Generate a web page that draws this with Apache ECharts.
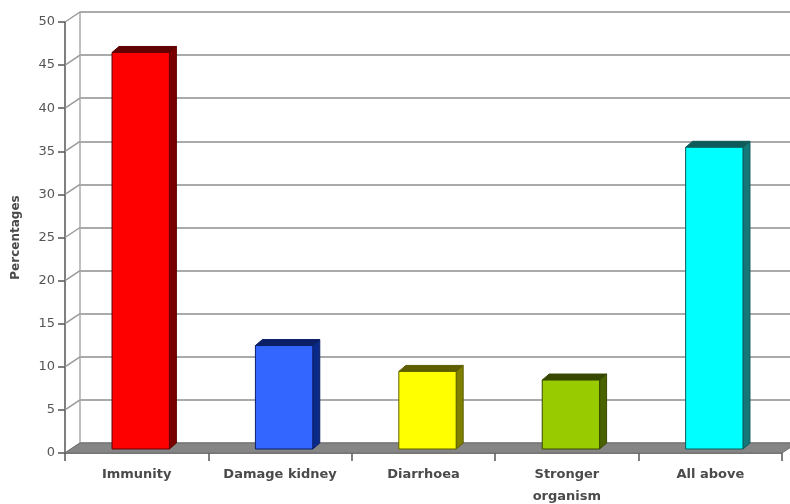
<!DOCTYPE html>
<html>
<head>
<meta charset="utf-8">
<script src="https://cdn.jsdelivr.net/npm/echarts@6/dist/echarts.min.js"></script>
<style>
  html, body { margin: 0; padding: 0; background: #fff; }
  #chart { width: 790px; height: 504px; }
</style>
</head>
<body>
<div id="chart"></div>
<script>
const categories = ['Immunity', 'Damage kidney', 'Diarrhoea', 'Stronger\norganism', 'All above'];
const percentages = [46, 12, 9, 8, 35];
const yTicks = [0, 5, 10, 15, 20, 25, 30, 35, 40, 45, 50];

const faceColors = ['#ff0000', '#3366ff', '#ffff00', '#99cc00', '#00ffff'];
const sideColors = ['#7a0000', '#0a2a8a', '#7f7f00', '#4a6300', '#157878'];
const edgeColors = ['#600000', '#0a1f66', '#5e5e00', '#364800', '#0f5a5a'];

// offset of the back wall relative to the front plane
const WALL_DX = 15, WALL_DY = -10;
// bars stand a little inside the floor, with their own depth
const BAR_DX = 4, BAR_DY = -4, BAR_DEPTH_X = 7, BAR_DEPTH_Y = -6;

const chart = echarts.init(document.getElementById('chart'), null, { renderer: 'canvas' });

const font = '"DejaVu Sans", Verdana, sans-serif';

function renderBar(params, api) {
  const i = api.value(0);
  const v = api.value(1);
  const top = api.coord([i, v]);
  const base = api.coord([i, 0]);
  const w = api.size([1, 0])[0] * 0.4;
  const x = top[0] - w / 2 + BAR_DX;
  const y = top[1] + BAR_DY;
  const h = base[1] - top[1];
  const dx = BAR_DEPTH_X, dy = BAR_DEPTH_Y;
  const idx = params.dataIndex;
  return {
    type: 'group',
    children: [
      {
        type: 'polygon',
        shape: { points: [[x + w, y], [x + w + dx, y + dy], [x + w + dx, y + h + dy], [x + w, y + h]] },
        style: { fill: sideColors[idx], stroke: edgeColors[idx], lineWidth: 1 }
      },
      {
        type: 'polygon',
        shape: { points: [[x, y], [x + dx, y + dy], [x + w + dx, y + dy], [x + w, y]] },
        style: { fill: edgeColors[idx], stroke: edgeColors[idx], lineWidth: 1 }
      },
      {
        type: 'rect',
        shape: { x: x, y: y, width: w, height: h },
        style: { fill: faceColors[idx], stroke: edgeColors[idx], lineWidth: 1 }
      }
    ]
  };
}

function renderWallEdge(params, api) {
  const y = api.coord([0, api.value(1)])[1];
  const x = params.coordSys.x;
  return {
    type: 'line',
    shape: { x1: x, y1: y, x2: x + WALL_DX, y2: y + WALL_DY },
    style: { stroke: '#9a9a9a', lineWidth: 1.5 }
  };
}

function renderFloor(params, api) {
  const cs = params.coordSys;
  const y = api.coord([0, 0])[1];
  const x0 = cs.x, x1 = cs.x + cs.width;
  return {
    type: 'polygon',
    shape: { points: [[x0, y], [x0 + WALL_DX, y + WALL_DY], [x1 + WALL_DX, y + WALL_DY], [x1, y]] },
    style: { fill: '#858585', stroke: '#6f6f6f', lineWidth: 1 }
  };
}

chart.setOption({
  backgroundColor: '#ffffff',
  animation: false,
  grid: [
    { left: 65, right: 8, top: 22, bottom: 51, outerBoundsMode: 'none', containLabel: false },
    { left: 65 + WALL_DX, right: 8 - WALL_DX, top: 22 + WALL_DY, bottom: 51 - WALL_DY, outerBoundsMode: 'none', containLabel: false }
  ],
  xAxis: [
    {
      type: 'category',
      gridIndex: 0,
      data: categories,
      axisLine: { lineStyle: { color: '#555', width: 1.5 } },
      axisTick: { show: true, length: 8, lineStyle: { color: '#555', width: 1.5 } },
      axisLabel: {
        margin: 11,
        fontFamily: font,
        fontSize: 13,
        fontWeight: 'bold',
        color: '#4a4a4a',
        lineHeight: 22,
        interval: 0
      }
    },
    {
      type: 'category',
      gridIndex: 1,
      data: categories,
      show: false
    }
  ],
  yAxis: [
    {
      type: 'value',
      gridIndex: 0,
      min: 0,
      max: 50,
      interval: 5,
      name: 'Percentages',
      nameLocation: 'middle',
      nameGap: 43,
      nameTextStyle: { fontFamily: font, fontSize: 12, fontWeight: 'bold', color: '#4a4a4a' },
      axisLine: { show: true, lineStyle: { color: '#555', width: 1.5 } },
      axisTick: { show: true, length: 7, lineStyle: { color: '#555', width: 1.5 } },
      axisLabel: { margin: 10, fontFamily: font, fontSize: 13, color: '#555' },
      splitLine: { show: false }
    },
    {
      type: 'value',
      gridIndex: 1,
      min: 0,
      max: 50,
      interval: 5,
      axisLine: { show: true, lineStyle: { color: '#aaa', width: 1.5 } },
      axisTick: { show: false },
      axisLabel: { show: false },
      splitLine: { show: true, lineStyle: { color: '#8e8e8e', width: 1.5 } }
    }
  ],
  series: [
    {
      name: 'wall',
      type: 'custom',
      xAxisIndex: 0,
      yAxisIndex: 0,
      renderItem: renderWallEdge,
      data: yTicks.map(v => [0, v]),
      z: 1,
      silent: true
    },
    {
      name: 'floor',
      type: 'custom',
      xAxisIndex: 0,
      yAxisIndex: 0,
      renderItem: renderFloor,
      data: [[0, 0]],
      z: 2,
      silent: true
    },
    {
      name: 'Percentages',
      type: 'custom',
      xAxisIndex: 0,
      yAxisIndex: 0,
      renderItem: renderBar,
      data: percentages.map((v, i) => [i, v]),
      z: 3
    }
  ]
});
</script>
</body>
</html>
